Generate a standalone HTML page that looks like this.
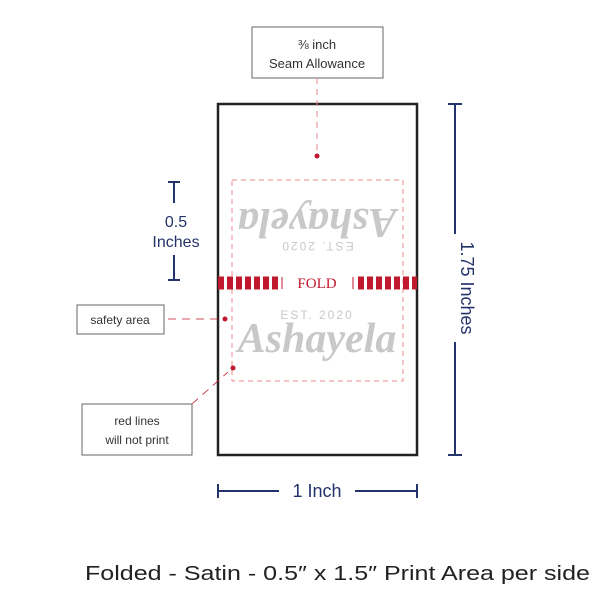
<!DOCTYPE html>
<html><head><style>body{margin:0;background:#fff}svg{display:block}</style></head><body>
<svg width="600" height="600" viewBox="0 0 600 600" style="font-family:'Liberation Sans',sans-serif">
<rect x="218" y="104" width="199" height="351" fill="none" stroke="#222" stroke-width="2.5"/>
<rect x="232" y="180" width="171" height="201" fill="none" stroke="#e88" stroke-width="1" stroke-dasharray="5,4"/>
<g fill="#c8c8c8">
<text x="317" y="352" font-size="42" text-anchor="middle" style="font-family:'Liberation Serif',serif;font-style:italic;font-weight:bold">Ashayela</text>
<text x="317" y="319" font-size="12" text-anchor="middle" letter-spacing="2">EST. 2020</text>
<g transform="rotate(180 317 228)"><text x="317" y="247" font-size="42" text-anchor="middle" style="font-family:'Liberation Serif',serif;font-style:italic;font-weight:bold">Ashayela</text><text x="317" y="214" font-size="12" text-anchor="middle" letter-spacing="2">EST. 2020</text></g>
</g>
<g stroke="#c0182c" stroke-dasharray="6,3">
<line x1="218" y1="283" x2="278" y2="283" stroke-width="13"/>
<line x1="358" y1="283" x2="417" y2="283" stroke-width="13"/>
</g>
<line x1="282" y1="277" x2="282" y2="289" stroke="#c0182c" stroke-width="1"/>
<line x1="353" y1="277" x2="353" y2="289" stroke="#c0182c" stroke-width="1"/>
<text x="317" y="288" font-size="15" fill="#c0182c" text-anchor="middle" style="font-family:'Liberation Serif',serif">FOLD</text>
<rect x="252" y="27" width="131" height="51" fill="#fff" stroke="#666"/>
<text x="317" y="49" font-size="13" fill="#333" text-anchor="middle">⅜ inch</text>
<text x="317" y="68" font-size="13" fill="#333" text-anchor="middle">Seam Allowance</text>
<line x1="317" y1="78" x2="317" y2="156" stroke="#e88" stroke-dasharray="6,5"/>
<circle cx="317" cy="156" r="2.5" fill="#c0182c"/>
<g stroke="#24336b" stroke-width="2" fill="none">
<path d="M168 182h12M174 182v21M174 255v25M168 280h12"/>
<path d="M448 104h14M455 104v130M455 342v113M448 455h14"/>
<path d="M218 484v14M218 491h61M355 491h62M417 484v14"/>
</g>
<g fill="#24336b" font-size="16" text-anchor="middle">
<text x="176" y="227">0.5</text><text x="176" y="247">Inches</text>
<text x="317" y="497" font-size="18">1 Inch</text>
<text transform="translate(461 288) rotate(90)" font-size="18">1.75 Inches</text>
</g>
<rect x="77" y="305" width="87" height="29" fill="#fff" stroke="#666"/>
<text x="120" y="324" font-size="12" fill="#333" text-anchor="middle">safety area</text>
<line x1="168" y1="319" x2="225" y2="319" stroke="#c0182c" stroke-dasharray="8,6" stroke-width="0.8"/>
<circle cx="225" cy="319" r="2.5" fill="#c0182c"/>
<rect x="82" y="404" width="110" height="51" fill="#fff" stroke="#666"/>
<text x="137" y="425" font-size="12" fill="#333" text-anchor="middle">red lines</text>
<text x="137" y="444" font-size="12" fill="#333" text-anchor="middle">will not print</text>
<line x1="192" y1="404" x2="228" y2="372" stroke="#c0182c" stroke-dasharray="8,6" stroke-width="0.8"/>
<circle cx="233" cy="368" r="2.5" fill="#c0182c"/>
<text x="85" y="580" font-size="20" fill="#222" textLength="505" lengthAdjust="spacingAndGlyphs">Folded - Satin - 0.5″ x 1.5″ Print Area per side</text>
</svg>
</body></html>
